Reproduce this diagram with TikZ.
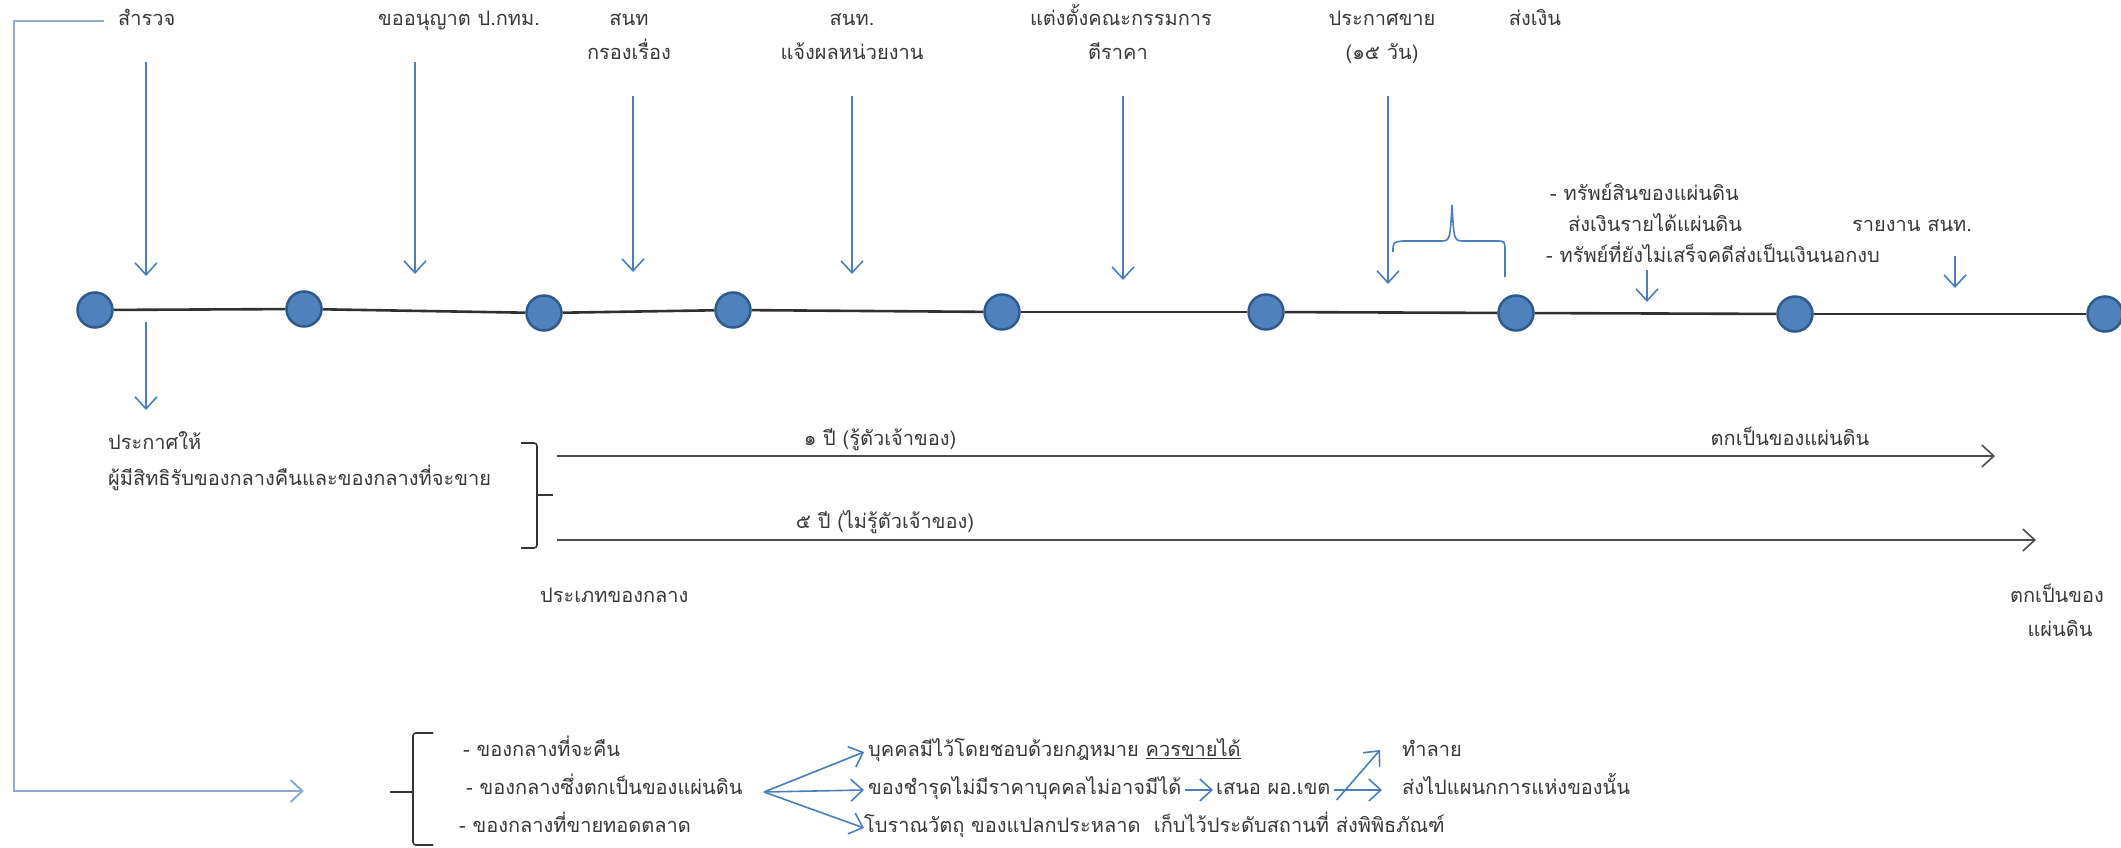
\documentclass[tikz,border=0pt]{standalone}
\usepackage{fontspec}
\newfontfamily\thaifont[Script=Thai]{Loma}
\usetikzlibrary{arrows.meta}
\definecolor{txtc}{HTML}{383838}
\definecolor{ablue}{HTML}{4A7EBB}
\definecolor{lblue}{HTML}{8FAACC}
\definecolor{dotf}{HTML}{4F81BD}
\definecolor{dotd}{HTML}{2E5A8C}
\definecolor{tlc}{HTML}{303030}
\begin{document}
\begin{tikzpicture}[x=1pt,y=-1pt,
  txt/.style={font=\thaifont\fontsize{20}{24}\selectfont, text=txtc, inner sep=0pt, text height=14pt, text depth=5pt},
  dot/.style={circle, minimum size=35pt, inner sep=0pt, fill=dotf, draw=dotd, line width=2.5pt},
  tl/.style={draw=tlc, line width=2.6pt},
  barrow/.style={draw=ablue, line width=1.6pt, -{Straight Barb[length=12pt,width=22pt]}},
  karrow/.style={draw=black!70, line width=1.6pt, -{Straight Barb[length=12pt,width=22pt]}},
  brc/.style={draw=ablue, line width=1.6pt},
  kbr/.style={draw=black!80, line width=1.6pt, rounded corners=3pt},
  lconn/.style={draw=lblue, line width=2pt, -{Straight Barb[length=12pt,width=22pt]}},
]
\useasboundingbox (0,0) rectangle (2121,848);

% timeline dots
\node[dot] (c1) at (95,310) {};
\node[dot] (c2) at (304,309) {};
\node[dot] (c3) at (544,313) {};
\node[dot] (c4) at (733,310) {};
\node[dot] (c5) at (1002,312) {};
\node[dot] (c6) at (1266,312) {};
\node[dot] (c7) at (1516,313) {};
\node[dot] (c8) at (1795,314) {};
\node[dot] (c9) at (2105,314) {};
\draw[tl] (c1) -- (c2);
\draw[tl] (c2) -- (c3);
\draw[tl] (c3) -- (c4);
\draw[tl] (c4) -- (c5);
\draw[tl] (c5) -- (c6);
\draw[tl] (c6) -- (c7);
\draw[tl] (c7) -- (c8);
\draw[tl] (c8) -- (c9);

% top labels
\node[txt, anchor=west] (l1) at (118,21) {สำรวจ};
\node[txt] (l2) at (459,21) {ขออนุญาต ป.กทม.};
\node[txt] (l3a) at (629,21) {สนท};
\node[txt] (l3b) at (629,55) {กรองเรื่อง};
\node[txt] (l4a) at (852,21) {สนท.};
\node[txt] (l4b) at (852,55) {แจ้งผลหน่วยงาน};
\node[txt] (l5a) at (1121,21) {แต่งตั้งคณะกรรมการ};
\node[txt] (l5b) at (1118,55) {ตีราคา};
\node[txt] (l6a) at (1382,21) {ประกาศขาย};
\node[txt] (l6b) at (1382,55) {(๑๕ วัน)};
\node[txt] (l7) at (1535,21) {ส่งเงิน};

% down arrows
\coordinate (a1s) at (146,62);  \coordinate (a1e) at (146,276);
\coordinate (a2s) at (415,62);  \coordinate (a2e) at (415,274);
\coordinate (a3s) at (633,96);  \coordinate (a3e) at (633,272);
\coordinate (a4s) at (852,96);  \coordinate (a4e) at (852,274);
\coordinate (a5s) at (1123,96); \coordinate (a5e) at (1123,280);
\coordinate (a6s) at (1388,96); \coordinate (a6e) at (1388,284);
\coordinate (a7s) at (1647,270); \coordinate (a7e) at (1647,302);
\coordinate (a8s) at (1955,256); \coordinate (a8e) at (1955,288);
\coordinate (a9s) at (146,322); \coordinate (a9e) at (146,410);
\foreach \i in {1,...,9} {\draw[barrow] (a\i s) -- (a\i e);}

% brace over last interval
\coordinate (bl) at (1393,252);
\coordinate (br) at (1505,277);
\draw[brc] (bl) .. controls (1393,242) .. (1403,241) -- (1440,241)
  .. controls (1450,241) .. (1452,205) .. controls (1454,241) .. (1464,241)
  -- (1496,241) .. controls (1505,241) .. (1505,252) -- (br);

% right texts
\node[txt, anchor=west] (t1) at (1550,196) {- ทรัพย์สินของแผ่นดิน};
\node[txt, anchor=west] (t2) at (1568,227) {ส่งเงินรายได้แผ่นดิน};
\node[txt, anchor=west] (t3) at (1546,258) {- ทรัพย์ที่ยังไม่เสร็จคดีส่งเป็นเงินนอกงบ};
\node[txt, anchor=west] (t4) at (1852,227) {รายงาน สนท.};

% middle section
\node[txt, anchor=west] (m1) at (108,445) {ประกาศให้};
\node[txt, anchor=west] (m2) at (108,481) {ผู้มีสิทธิรับของกลางคืนและของกลางที่จะขาย};
\coordinate (kb1) at (521,443);
\coordinate (kb2) at (521,548);
\coordinate (kbm) at (537,495);
\coordinate (kbt) at (553,495);
\draw[kbr] (kb1) -- (537,443) -- (537,548) -- (kb2);
\draw[kbr] (kbm) -- (kbt);
\coordinate (p1s) at (557,456); \coordinate (p1e) at (1995,456);
\coordinate (p2s) at (557,540); \coordinate (p2e) at (2036,540);
\draw[karrow] (p1s) -- (p1e);
\draw[karrow] (p2s) -- (p2e);
\node[txt] (y1) at (880,441) {๑ ปี (รู้ตัวเจ้าของ)};
\node[txt] (y1b) at (1790,441) {ตกเป็นของแผ่นดิน};
\node[txt] (y2) at (885,524) {๕ ปี (ไม่รู้ตัวเจ้าของ)};
\node[txt, anchor=west] (pt) at (540,598) {ประเภทของกลาง};
\node[txt] (e1) at (2057,598) {ตกเป็นของ};
\node[txt] (e2) at (2060,632) {แผ่นดิน};

% left connector
\coordinate (lc) at (14,791);
\coordinate (lend) at (304,791);
\draw[lconn] ([xshift=-14pt]l1.west) -| (lc) -- (lend);

% bottom brace
\draw[kbr] (433,733) -- (413,733) -- (413,845) -- (433,845);
\coordinate (bbm) at (413,792);
\coordinate (bbt) at (390,792);
\draw[kbr] (bbm) -- (bbt);

\node[txt, anchor=west] (b1) at (463,752) {- ของกลางที่จะคืน};
\node[txt, anchor=west] (b2) at (466,790) {- ของกลางซึ่งตกเป็นของแผ่นดิน};
\node[txt, anchor=west] (b3) at (459,828) {- ของกลางที่ขายทอดตลาด};

\node[txt, anchor=west] (d1) at (868,752) {บุคคลมีไว้โดยชอบด้วยกฎหมาย \underline{ควรขายได้}};
\node[txt, anchor=west] (d2) at (868,790) {ของชำรุดไม่มีราคาบุคคลไม่อาจมีได้};
\node[txt, anchor=west] (d3) at (864,828) {โบราณวัตถุ ของแปลกประหลาด\ \ เก็บไว้ประดับสถานที่ ส่งพิพิธภัณฑ์};

\node[txt, anchor=west] (e) at (1216,790) {เสนอ ผอ.เขต};
\node[txt, anchor=west] (g) at (1402,752) {ทำลาย};
\node[txt, anchor=west] (f) at (1402,790) {ส่งไปแผนกการแห่งของนั้น};

\coordinate (fo) at (764,792);
\draw[barrow] (fo) -- ([xshift=-4pt]d1.west);
\draw[barrow] (fo) -- ([xshift=-4pt]d2.west);
\draw[barrow] (fo) -- (d3.west);
\draw[barrow] ([xshift=3pt]d2.east) -- ([xshift=-3pt]e.west);
\draw[barrow] ([xshift=3pt]e.east) -- ([xshift=-20pt]f.west);
\draw[barrow] ([xshift=6pt,yshift=-10pt]e.east) -- ([xshift=-22pt,yshift=2pt]g.west);
\end{tikzpicture}
\end{document}
